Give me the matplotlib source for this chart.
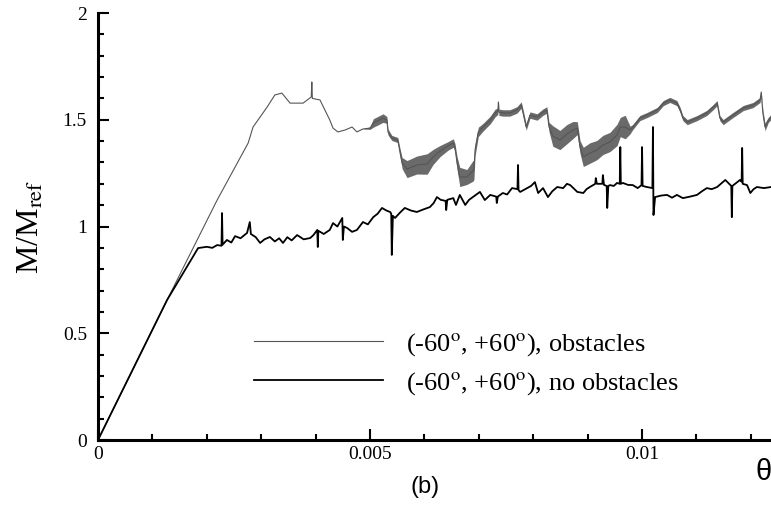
import matplotlib.pyplot as plt
import numpy as np
from matplotlib.ticker import MultipleLocator, FixedLocator, FixedFormatter

plt.rcParams['mathtext.fontset'] = 'stix'
plt.rcParams['font.family'] = 'Liberation Serif'

# no obstacles run (theta, M/Mref); spikes are kept as narrow peaks
theta_free = [0, 0.00127, 0.00184, 0.00200, 0.00210, 0.00219, 0.00227, 0.00228,
              0.00229, 0.00237, 0.00245, 0.00252, 0.00262, 0.00274, 0.00279,
              0.00281, 0.00290, 0.00298, 0.00306, 0.00316, 0.00325, 0.00333,
              0.00340, 0.00348, 0.00356, 0.00366, 0.00378, 0.00390, 0.00396,
              0.00403, 0.00404, 0.00405, 0.00415, 0.00426, 0.00432, 0.00440,
              0.00449, 0.00450, 0.00452, 0.00458, 0.00467, 0.00476, 0.00487,
              0.00496, 0.00506, 0.00514, 0.00522, 0.00530, 0.00537, 0.00539,
              0.00540, 0.00542, 0.00546, 0.00555, 0.00564, 0.00575, 0.00586,
              0.00598, 0.00610, 0.00617, 0.00623, 0.00630, 0.00639, 0.00640,
              0.00642, 0.00653, 0.00658, 0.00665, 0.00675, 0.00682, 0.00689,
              0.00702, 0.00711, 0.00721, 0.00732, 0.00733, 0.00735, 0.00744,
              0.00752, 0.00761, 0.00771, 0.00772, 0.00773, 0.00776, 0.00789,
              0.00796, 0.00803, 0.00809, 0.00818, 0.00827, 0.00835, 0.00844,
              0.00855, 0.00862, 0.00868, 0.00881, 0.00892, 0.00898, 0.00904,
              0.00914, 0.00915, 0.00917, 0.00927, 0.00928, 0.00930, 0.00935,
              0.00936, 0.00938, 0.00941, 0.00948, 0.00954, 0.00959, 0.00960,
              0.00961, 0.00965, 0.00974, 0.00983, 0.00992, 0.00999, 0.01000,
              0.01001, 0.01009, 0.01019, 0.01020, 0.01021, 0.01024, 0.01035,
              0.01046, 0.01055, 0.01064, 0.01075, 0.01088, 0.01101, 0.01110,
              0.01119, 0.01128, 0.01138, 0.01153, 0.01164, 0.01165, 0.01166,
              0.01180, 0.01183, 0.01184, 0.01185, 0.01193, 0.01199, 0.01205,
              0.01211, 0.01224, 0.01237]
m_free = [0, 0.656, 0.899, 0.905, 0.900, 0.913, 0.910, 1.063,
          0.915, 0.937, 0.925, 0.955, 0.945, 0.970, 1.021,
          0.965, 0.950, 0.923, 0.940, 0.951, 0.930, 0.945,
          0.923, 0.950, 0.935, 0.960, 0.940, 0.946, 0.960,
          0.984, 0.904, 0.980, 0.965, 0.984, 1.016, 1.000,
          1.040, 0.937, 1.000, 0.993, 0.975, 0.984, 1.021,
          1.010, 1.044, 1.060, 1.087, 1.075, 1.068, 1.060,
          0.867, 1.050, 1.040, 1.065, 1.087, 1.075, 1.068,
          1.080, 1.091, 1.110, 1.138, 1.125, 1.120, 1.077,
          1.125, 1.133, 1.101, 1.148, 1.101, 1.125, 1.138,
          1.162, 1.124, 1.148, 1.140, 1.110, 1.140, 1.157,
          1.150, 1.180, 1.175, 1.288, 1.170, 1.162, 1.180,
          1.190, 1.208, 1.157, 1.180, 1.138, 1.165, 1.185,
          1.180, 1.200, 1.194, 1.162, 1.157, 1.175, 1.185,
          1.200, 1.227, 1.200, 1.200, 1.241, 1.195, 1.190,
          1.087, 1.190, 1.194, 1.190, 1.204, 1.200, 1.372,
          1.200, 1.204, 1.195, 1.194, 1.180, 1.194, 1.372,
          1.190, 1.185, 1.180, 1.466, 1.054, 1.138, 1.145,
          1.148, 1.135, 1.148, 1.133, 1.140, 1.148, 1.165,
          1.180, 1.175, 1.185, 1.218, 1.190, 1.044, 1.190,
          1.218, 1.210, 1.368, 1.200, 1.194, 1.157, 1.175,
          1.185, 1.180, 1.185]

# obstacles run: mean level and half-width of the oscillation band
theta_obs = [0, 0.00127, 0.00219, 0.00276, 0.00285, 0.00311, 0.00325, 0.00338,
             0.00353, 0.00377, 0.00392, 0.00393, 0.00394, 0.00408, 0.00417,
             0.00426, 0.00432, 0.00441, 0.00454, 0.00467, 0.00476, 0.00487,
             0.00500, 0.00506, 0.00524, 0.00531, 0.00533, 0.00540, 0.00551,
             0.00555, 0.00559, 0.00568, 0.00586, 0.00605, 0.00616, 0.00629,
             0.00643, 0.00653, 0.00656, 0.00660, 0.00665, 0.00678, 0.00689,
             0.00691, 0.00693, 0.00699, 0.00708, 0.00721, 0.00730, 0.00735,
             0.00736, 0.00737, 0.00744, 0.00757, 0.00770, 0.00778, 0.00781,
             0.00787, 0.00794, 0.00807, 0.00818, 0.00825, 0.00829, 0.00836,
             0.00849, 0.00862, 0.00873, 0.00881, 0.00886, 0.00892, 0.00904,
             0.00917, 0.00928, 0.00941, 0.00954, 0.00960, 0.00969, 0.00978,
             0.00983, 0.00996, 0.01009, 0.01028, 0.01039, 0.01051, 0.01064,
             0.01070, 0.01075, 0.01083, 0.01101, 0.01119, 0.01131, 0.01138,
             0.01143, 0.01149, 0.01167, 0.01186, 0.01204, 0.01217, 0.01219,
             0.01222, 0.01226, 0.01232, 0.01237]
m_obs = [0, 0.656, 1.124, 1.391, 1.466, 1.560, 1.616, 1.625,
         1.578, 1.578, 1.607, 1.677, 1.600, 1.593, 1.546,
         1.499, 1.461, 1.443, 1.452, 1.466, 1.443, 1.457,
         1.461, 1.485, 1.508, 1.499, 1.443, 1.415, 1.405,
         1.349, 1.297, 1.269, 1.288, 1.293, 1.326, 1.354,
         1.377, 1.391, 1.372, 1.297, 1.232, 1.232, 1.260,
         1.265, 1.358, 1.443, 1.466, 1.499, 1.532, 1.540,
         1.583, 1.535, 1.532, 1.532, 1.546, 1.569, 1.536,
         1.466, 1.522, 1.513, 1.536, 1.546, 1.466, 1.424,
         1.405, 1.433, 1.452, 1.461, 1.372, 1.326, 1.344,
         1.358, 1.382, 1.396, 1.429, 1.466, 1.466, 1.452,
         1.466, 1.508, 1.522, 1.546, 1.578, 1.593, 1.578,
         1.546, 1.508, 1.489, 1.508, 1.532, 1.560, 1.578,
         1.508, 1.489, 1.522, 1.555, 1.569, 1.593, 1.630,
         1.532, 1.466, 1.499, 1.513]
spread_obs = [0, 0, 0, 0, 0, 0, 0, 0,
              0, 0, 0, 0, 0, 0, 0,
              0, 0, 0, 0, 0, 0, 0,
              0.006, 0.020, 0.020, 0.016, 0.014, 0.012, 0.012,
              0.018, 0.026, 0.040, 0.042, 0.048, 0.035, 0.026,
              0.020, 0.020, 0.018, 0.030, 0.045, 0.035, 0.048,
              0.045, 0.028, 0.022, 0.018, 0.018, 0.018, 0.015,
              0.006, 0.015, 0.015, 0.015, 0.015, 0.015, 0.015,
              0.015, 0.015, 0.015, 0.015, 0.015, 0.022, 0.048,
              0.045, 0.045, 0.040, 0.030, 0.030, 0.045, 0.048,
              0.045, 0.045, 0.045, 0.050, 0.045, 0.055, 0.018,
              0.012, 0.012, 0.012, 0.012, 0.012, 0.012, 0.012,
              0.012, 0.012, 0.012, 0.012, 0.012, 0.012, 0.012,
              0.012, 0.012, 0.012, 0.012, 0.012, 0.012, 0.006,
              0.015, 0.018, 0.012, 0.012]

label_obs = r'(-60$^{\rm o}$, +60$^{\rm o}$), obstacles'
label_free = r'(-60$^{\rm o}$, +60$^{\rm o}$), no obstacles'

fig = plt.figure(figsize=(7.71, 5.05), dpi=100)
ax = fig.add_axes([0.1271, 0.1287, 0.8729, 0.8455])

t_obs = np.array(theta_obs)
y_obs = np.array(m_obs)
s_obs = np.array(spread_obs)
ax.fill_between(t_obs, y_obs - s_obs, y_obs + s_obs, color='#6a6a6a', lw=0)
ax.plot(t_obs, y_obs, color='#555555', lw=0.8, label=label_obs)
ax.plot(theta_free, m_free, color='black', lw=1.3, label=label_free)

ax.set_xlim(0, 0.01237)
ax.set_ylim(0, 2)

ax.xaxis.set_major_locator(FixedLocator([0, 0.005, 0.01]))
ax.xaxis.set_major_formatter(FixedFormatter(['0', '0.005', '0.01']))
ax.xaxis.set_minor_locator(MultipleLocator(0.001))
ax.yaxis.set_major_locator(FixedLocator([0, 0.5, 1, 1.5, 2]))
ax.yaxis.set_major_formatter(FixedFormatter(['0', '0.5', '1', '1.5', '2']))
ax.yaxis.set_minor_locator(MultipleLocator(0.1))

ax.tick_params(which='both', direction='in', width=1.5, labelsize=14)
ax.tick_params(axis='x', pad=4)
ax.tick_params(axis='y', pad=8)
ax.tick_params(which='major', length=8)
ax.tick_params(which='minor', length=4.5)
for side in ['top', 'right']:
    ax.spines[side].set_visible(False)
for side in ['left', 'bottom']:
    ax.spines[side].set_linewidth(2.2)

ax.set_ylabel(r'M/M$_{\rm ref}$', fontsize=23, labelpad=12)

leg = ax.legend(loc='upper left', bbox_to_anchor=(0.232, 0.255), frameon=False,
                fontsize=19, handlelength=4.9, handletextpad=0.85,
                labelspacing=0.45, borderpad=0, borderaxespad=0)

fig.text(0.990, 0.065, 'θ', fontsize=21, family='Liberation Sans',
         ha='center', va='center')
fig.text(0.551, 0.035, '(b)', fontsize=17, family='Liberation Sans',
         ha='center', va='center')

fig.savefig('out.png', dpi=100)
